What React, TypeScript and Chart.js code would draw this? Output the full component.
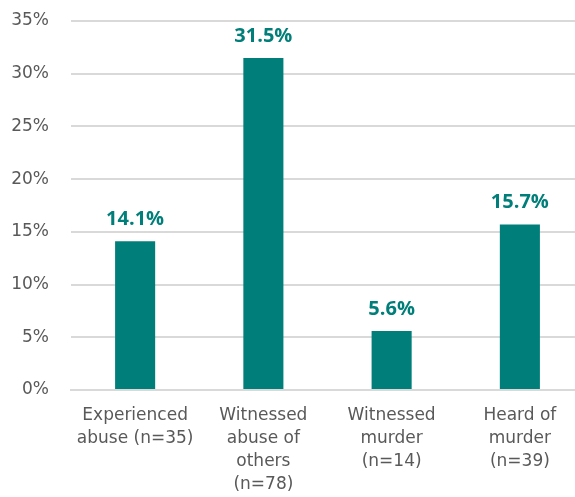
import React, { useEffect, useRef } from "react";
import { Chart, registerables } from "chart.js";

Chart.register(...registerables);

const categories: string[][] = [
  ["Experienced", "abuse (n=35)"],
  ["Witnessed", "abuse of", "others", "(n=78)"],
  ["Witnessed", "murder", "(n=14)"],
  ["Heard of", "murder", "(n=39)"],
];
const values: number[] = [14.1, 31.5, 5.6, 15.7];
const yTicks: number[] = [0, 5, 10, 15, 20, 25, 30, 35];

const TEAL = "#007F7A";
const TEXT = "#595959";
const AXIS_FONT = "'DejaVu Sans', 'Open Sans', sans-serif";
const LABEL_FONT = "'Open Sans', 'Noto Sans', sans-serif";

const valueLabels = {
  id: "valueLabels",
  afterDatasetsDraw(chart: any) {
    const ctx = chart.ctx;
    const meta = chart.getDatasetMeta(0);
    ctx.save();
    ctx.fillStyle = TEAL;
    ctx.font = `bold 20px ${LABEL_FONT}`;
    ctx.textAlign = "center";
    ctx.textBaseline = "bottom";
    meta.data.forEach((bar: any, i: number) => {
      ctx.fillText(values[i].toFixed(1) + "%", bar.x, bar.y - 12);
    });
    ctx.restore();
  },
};

export default function App() {
  const ref = useRef<HTMLCanvasElement | null>(null);
  useEffect(() => {
    document.body.style.margin = "0";
    document.body.style.overflow = "hidden";
    const chart = new Chart(ref.current!, {
      type: "bar",
      data: {
        labels: categories,
        datasets: [
          {
            data: values,
            backgroundColor: TEAL,
            borderWidth: 0,
            categoryPercentage: 1,
            barPercentage: 0.3125,
          },
        ],
      },
      options: {
        animation: false,
        responsive: false,
        maintainAspectRatio: false,
        layout: { padding: { top: 21, left: 0, right: 0, bottom: 0 } },
        plugins: { legend: { display: false }, tooltip: { enabled: false } },
        scales: {
          x: {
            grid: { display: false, drawTicks: false },
            border: { display: true, color: "#D9D9D9", width: 2 },
            ticks: {
              color: TEXT,
              font: { family: AXIS_FONT, size: 17, lineHeight: 1.36 },
              padding: 14,
              maxRotation: 0,
              autoSkip: false,
            },
            afterFit: (s: any) => {
              s.height = 107;
              s.paddingTop = 0;
            },
          },
          y: {
            min: 0,
            max: 35,
            afterBuildTicks: (s: any) => {
              s.ticks = yTicks.map((v) => ({ value: v }));
            },
            grid: { color: "#D9D9D9", lineWidth: 2, drawTicks: false },
            border: { display: false },
            ticks: {
              color: TEXT,
              font: { family: AXIS_FONT, size: 17 },
              padding: 22,
              callback: (v: any) => v + "%",
            },
            afterFit: (s: any) => {
              s.width = 71;
              s.paddingTop = 0;
              s.paddingBottom = 0;
            },
          },
        },
      },
      plugins: [valueLabels],
    });
    return () => chart.destroy();
  }, []);
  return (
    <div style={{ width: 575, height: 497, overflow: "hidden" }}>
      <canvas ref={ref} width={584} height={497} style={{ width: 584, height: 497, display: "block" }} />
    </div>
  );
}
